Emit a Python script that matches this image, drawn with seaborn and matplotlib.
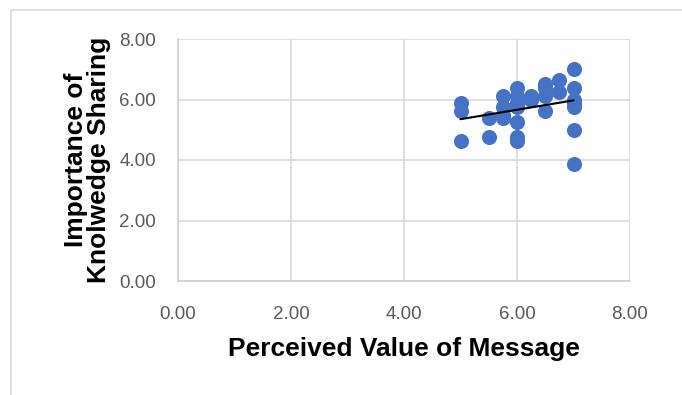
import matplotlib
matplotlib.use("Agg")
import matplotlib.pyplot as plt
import seaborn as sns
import pandas as pd
from matplotlib.patches import Rectangle

# Survey scores: perceived value of message vs. importance of knowledge sharing
perceived_value = [5.00, 5.00, 5.00,
                   5.50, 5.50,
                   5.75, 5.75, 5.75, 5.75,
                   6.00, 6.00, 6.00, 6.00, 6.00, 6.00, 6.00,
                   6.25, 6.25,
                   6.50, 6.50, 6.50, 6.50,
                   6.75, 6.75,
                   7.00, 7.00, 7.00, 7.00, 7.00, 7.00, 7.00]
knowledge_sharing = [5.88, 5.63, 4.63,
                     5.38, 4.75,
                     6.13, 5.75, 5.50, 5.38,
                     6.38, 6.13, 5.88, 5.75, 5.25, 4.75, 4.63,
                     6.13, 6.00,
                     6.50, 6.38, 6.13, 5.63,
                     6.63, 6.25,
                     7.00, 6.38, 6.00, 5.88, 5.75, 5.00, 3.88]
tick_values = [0, 2, 4, 6, 8]
tick_labels = ["0.00", "2.00", "4.00", "6.00", "8.00"]

df = pd.DataFrame({"x": perceived_value, "y": knowledge_sharing})

sns.set_theme(style="white")
plt.rcParams["font.family"] = ["Liberation Sans", "DejaVu Sans"]

fig = plt.figure(figsize=(6.82, 3.95), dpi=100)
ax = fig.add_axes([178 / 682, 1 - 281 / 395, (630 - 178) / 682, (281 - 39) / 395])

# chart frame (extends beyond the lower and right edges)
top = (395 - 10) / 395
fig.patches.append(Rectangle((11 / 682, -0.2), 1.2, top + 0.2,
                             transform=fig.transFigure, fill=False,
                             edgecolor="#d9d9d9", linewidth=1.2, zorder=0))

sns.regplot(data=df, x="x", y="y", ax=ax, ci=None, truncate=True,
            scatter_kws=dict(s=118, color="#4472C4", alpha=1, linewidths=0, zorder=3),
            line_kws=dict(color="black", linewidth=1.5, zorder=4))

ax.set_xlim(0, 8)
ax.set_ylim(0, 8)
ax.set_xticks(tick_values)
ax.set_xticklabels(tick_labels)
ax.set_yticks(tick_values)
ax.set_yticklabels(tick_labels)
ax.grid(True, color="#d9d9d9", linewidth=1.2)
ax.set_axisbelow(True)
for side in ["top", "right"]:
    ax.spines[side].set_visible(False)
for side in ["left", "bottom"]:
    ax.spines[side].set_color("#d0d0d0")
    ax.spines[side].set_linewidth(1.2)
ax.tick_params(length=0, labelsize=13.5, labelcolor="#595959")
ax.tick_params(axis="y", pad=16)
ax.tick_params(axis="x", pad=18)

ax.set_xlabel("Perceived Value of Message", fontsize=19, fontweight="bold",
              color="black", labelpad=10)
ax.set_ylabel("Importance of\nKnolwedge Sharing", fontsize=19, fontweight="bold",
              color="black", labelpad=6, linespacing=0.95)

fig.savefig("out.png", dpi=100)
